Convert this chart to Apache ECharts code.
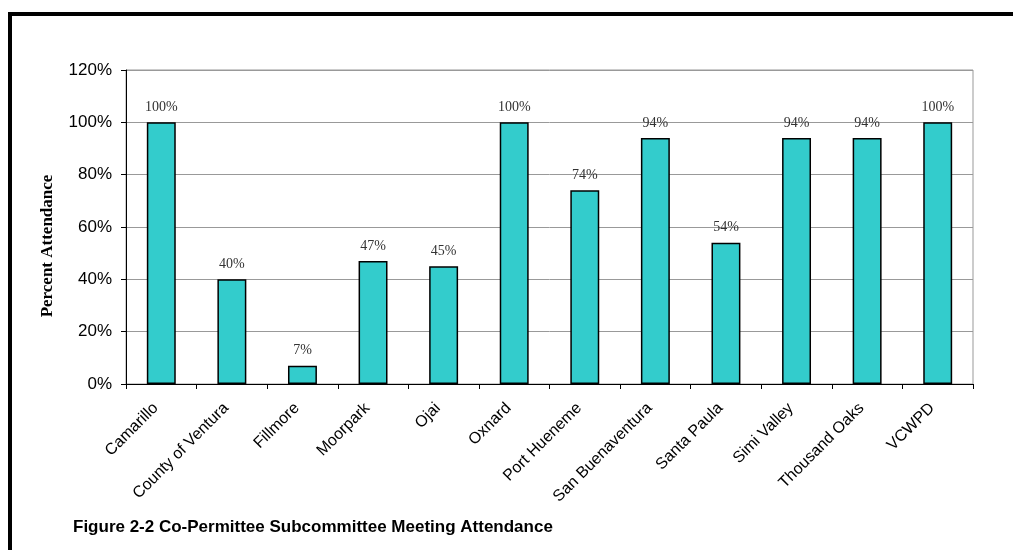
<!DOCTYPE html>
<html>
<head>
<meta charset="utf-8">
<script src="https://cdn.jsdelivr.net/npm/echarts@6/dist/echarts.min.js"></script>
<style>
html,body{margin:0;padding:0;background:#fff;}
#main{width:1013px;height:550px;}
</style>
</head>
<body>
<div id="main"></div>
<script>
const categories = ["Camarillo","County of Ventura","Fillmore","Moorpark","Ojai","Oxnard","Port Hueneme","San Buenaventura","Santa Paula","Simi Valley","Thousand Oaks","VCWPD"];
const attendance = [100, 40, 7, 47, 45, 100, 74, 94, 54, 94, 94, 100];
const yTicks = [0, 20, 40, 60, 80, 100, 120];
const captionText = "Figure 2-2 Co-Permittee Subcommittee Meeting Attendance";
const yAxisTitle = "Percent Attendance";

const chart = echarts.init(document.getElementById('main'), null, {renderer:'canvas'});
chart.setOption({
  backgroundColor:'#fff',
  animation:false,
  grid:{left:126, right:40, top:70, bottom:166, show:true, borderColor:'#999', borderWidth:1, backgroundColor:'transparent'},
  xAxis:{
    type:'category', data:categories,
    axisLine:{lineStyle:{color:'#000', width:1}},
    axisTick:{show:true, alignWithLabel:false, length:5, lineStyle:{color:'#000'}},
    axisLabel:{rotate:45, interval:0, margin:16, padding:[0,8,0,0], fontFamily:'Arial, Liberation Sans', fontSize:16, color:'#000'}
  },
  yAxis:{
    type:'value', min:yTicks[0], max:yTicks[yTicks.length-1], interval:20,
    name:yAxisTitle, nameLocation:'middle', nameGap:70,
    nameTextStyle:{fontFamily:'Liberation Serif, Times New Roman', fontWeight:'bold', fontSize:17, color:'#000', padding:[0,38,0,0]},
    axisLine:{show:true, lineStyle:{color:'#000', width:1}},
    axisTick:{show:true, length:5, lineStyle:{color:'#000'}},
    axisLabel:{formatter:'{value}%', margin:14, fontFamily:'Arial, Liberation Sans', fontSize:17, color:'#000'},
    splitLine:{show:true, lineStyle:{color:'#999', width:1}}
  },
  series:[{
    type:'bar', data:attendance, barWidth:'41%',
    itemStyle:{color:'#33CCCC', borderColor:'#000', borderWidth:1.5},
    label:{show:true, position:'top', distance:8, formatter:'{c}%', fontFamily:'Liberation Serif, Times New Roman', fontSize:14, color:'#333'}
  }],
  graphic:[
    {type:'rect', shape:{x:8, y:12, width:1005, height:4}, style:{fill:'#000'}},
    {type:'rect', shape:{x:8, y:12, width:4, height:538}, style:{fill:'#000'}},
    {type:'text', left:73, top:519, style:{text:captionText, fontFamily:'Arial, Liberation Sans', fontWeight:'bold', fontSize:17, fill:'#000'}}
  ]
});
</script>
</body>
</html>
